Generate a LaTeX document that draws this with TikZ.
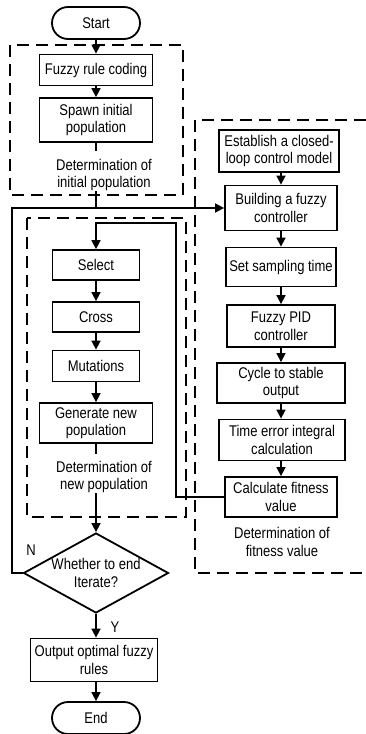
\documentclass[tikz,border=0pt]{standalone}
\usepackage{fontspec}
\setmainfont{Liberation Sans}[FakeStretch=0.84]
\usetikzlibrary{arrows.meta,shapes.geometric,shapes.misc}

\tikzset{
  every node/.style={font=\fontsize{15.5}{17.5}\selectfont, inner sep=0pt},
  stepbox/.style={draw, line width=1.8pt, align=center, minimum width=#1},
  term/.style={draw, line width=1.8pt, rounded rectangle, minimum width=88pt, minimum height=32pt},
  note/.style={align=center},
  arr/.style={line width=1.6pt, -{Triangle[length=9pt,width=9pt]}},
  ln/.style={line width=1.6pt},
  group/.style={line width=1.8pt, dash pattern=on 12pt off 7pt},
}

\begin{document}
\begin{tikzpicture}[x=1pt,y=-1pt]
\useasboundingbox (0,0) rectangle (366,734);

% genetic algorithm column
\node[term] (start) at (96,23) {Start};
\node[stepbox=113pt, minimum height=31pt] (fuzzy) at (96,70) {Fuzzy rule coding};
\node[stepbox=113pt, minimum height=44pt] (spawn) at (96,120) {Spawn initial\\population};
\node[note] (detinit) at (104,175) {Determination of\\initial population};

\node[stepbox=87pt, minimum height=30pt] (sel) at (96,265) {Select};
\node[stepbox=87pt, minimum height=30pt] (cross) at (96,317) {Cross};
\node[stepbox=87pt, minimum height=31pt] (mut) at (96,366) {Mutations};
\node[stepbox=113pt, minimum height=40pt] (gen) at (96,423) {Generate new\\population};
\node[note] (detnew) at (104,477) {Determination of\\new population};

\node[draw, diamond, line width=1.8pt, minimum width=145pt, minimum height=80pt] (dec) at (96,573) {};
\node[note] (dectext) at (dec.center) {Whether to end\\Iterate?};
\node[stepbox=127pt, minimum height=43pt] (out) at (94,660) {Output optimal fuzzy\\rules};
\node[term] (end) at (96,718) {End};

\node (nlab) at (31,550) {N};
\node (ylab) at (115,627) {Y};

% fitness evaluation column
\node[stepbox=120pt, minimum height=42pt] (est) at (279,151) {Establish a closed-\\loop control model};
\node[stepbox=112pt, minimum height=45pt] (build) at (281,208) {Building a fuzzy\\controller};
\node[stepbox=110pt, minimum height=39pt] (samp) at (281,267) {Set sampling time};
\node[stepbox=108pt, minimum height=42pt] (pid) at (281,326) {Fuzzy PID\\controller};
\node[stepbox=128pt, minimum height=40pt] (cyc) at (281,383) {Cycle to stable\\output};
\node[stepbox=126pt, minimum height=41pt] (tei) at (282,440) {Time error integral\\calculation};
\node[stepbox=112pt, minimum height=40pt] (fit) at (281,497) {Calculate fitness\\value};
\node[note] (detfit) at (282,542) {Determination of\\fitness value};

% dashed groups
\draw[group] (10,45) rectangle (183,195);
\draw[group] (27,218) rectangle (186,517);
\draw[group] (366,120) -- (195,120) -- (195,573) -- (366,573);

% corner points of the connectors
\coordinate (loopbot) at (12,573);
\coordinate (looptop) at (12,208);
\coordinate (fbtop) at (176,223);

% connectors
\draw[arr] (start) -- (fuzzy);
\draw[arr] (fuzzy) -- (spawn);
\draw[ln] (spawn.south) -- ([yshift=-8pt]spawn.south);
\draw[ln] (spawn.south |- detinit.south) -- (spawn.south |- build.west);
\draw[arr] (dec.west) -- (loopbot) -- (looptop) -- (build.west);

\draw[arr] (build.north |- est.south) -- (build.north);
\draw[arr] (build.south) -- (samp.north);
\draw[arr] (samp) -- (pid);
\draw[arr] (pid) -- (cyc);
\draw[arr] (cyc.south) -- (tei.north -| cyc.south);
\draw[arr] (tei.south -| fit.north) -- (fit.north);
\draw[arr] (fit.west) -| (fbtop) -| (sel.north);

\draw[arr] (sel) -- (cross);
\draw[arr] (cross) -- (mut);
\draw[arr] (mut) -- (gen);
\draw[ln] (gen.south) -- ([yshift=-10pt]gen.south);
\draw[arr] (gen.south |- detnew.south) -- (dec.north);
\draw[arr] (dec.south) -- (out.north -| dec.south);
\draw[arr] (out.south -| end.north) -- (end.north);
\end{tikzpicture}
\end{document}
